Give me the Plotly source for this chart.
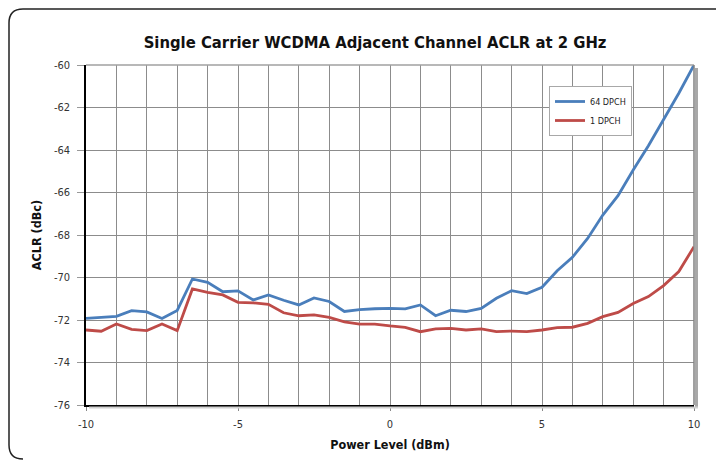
import plotly.graph_objects as go

# power level sweep (dBm)
power_dbm = [-10, -9.5, -9, -8.5, -8, -7.5, -7, -6.5, -6, -5.5, -5, -4.5, -4, -3.5,
             -3, -2.5, -2, -1.5, -1, -0.5, 0, 0.5, 1, 1.5, 2, 2.5, 3, 3.5,
             4, 4.5, 5, 5.5, 6, 6.5, 7, 7.5, 8, 8.5, 9, 9.5, 10]

# ACLR (dBc)
aclr_64dpch = [-71.92, -71.87, -71.83, -71.56, -71.62, -71.93, -71.55, -70.07, -70.23, -70.67,
               -70.63, -71.06, -70.82, -71.07, -71.29, -70.96, -71.13, -71.60, -71.51, -71.47,
               -71.45, -71.48, -71.29, -71.80, -71.54, -71.60, -71.45, -70.98, -70.62, -70.76,
               -70.46, -69.68, -69.05, -68.16, -67.06, -66.15, -64.94, -63.80, -62.59, -61.33,
               -60.00]
aclr_1dpch = [-72.47, -72.53, -72.19, -72.44, -72.50, -72.19, -72.50, -70.54, -70.70, -70.82,
              -71.17, -71.19, -71.26, -71.66, -71.80, -71.76, -71.88, -72.09, -72.19, -72.19,
              -72.28, -72.35, -72.55, -72.42, -72.39, -72.47, -72.42, -72.55, -72.52, -72.55,
              -72.47, -72.36, -72.34, -72.16, -71.84, -71.64, -71.22, -70.90, -70.38, -69.72,
              -68.55]

x_ticks = [-10, -5, 0, 5, 10]
x_labels = ["-10", "-5", "0", "5", "10"]
y_ticks = [-76, -74, -72, -70, -68, -66, -64, -62, -60]
y_labels = ["-76", "-74", "-72", "-70", "-68", "-66", "-64", "-62", "-60"]

FONT = "DejaVu Sans Condensed, Liberation Sans Narrow, sans-serif"

fig = go.Figure()

fig.add_trace(go.Scatter(
    x=power_dbm, y=aclr_64dpch, mode="lines", name="64 DPCH",
    line=dict(color="#4A7EBB", width=2.8)
))
fig.add_trace(go.Scatter(
    x=power_dbm, y=aclr_1dpch, mode="lines", name="1 DPCH",
    line=dict(color="#BE4B48", width=2.8)
))

# the page adds an 8px body margin, so the figure is laid out 8px up/left
# plot area: 78..686 px wide, 57..397 px tall (figure coords)
px = 1 / 608
py = 1 / 340

shapes = [
    # drop shadow right / bottom of plot frame
    dict(type="line", xref="paper", yref="paper", x0=1 + 2.5 * px, x1=1 + 2.5 * px,
         y0=-3 * py, y1=1 - 3 * py, line=dict(color="#a8a8a8", width=3)),
    dict(type="line", xref="paper", yref="paper", x0=3 * px, x1=1 + 4 * px,
         y0=-2.5 * py, y1=-2.5 * py, line=dict(color="#d0d0d0", width=2)),
    # frame: grey top/right
    dict(type="line", xref="paper", yref="paper", x0=0, x1=1, y0=1, y1=1,
         line=dict(color="#a0a0a0", width=1.5)),
    dict(type="line", xref="paper", yref="paper", x0=1, x1=1, y0=0, y1=1,
         line=dict(color="#808080", width=1.5)),
]

# rounded outer border (bottom edge runs off the page, only the corner shows)
L, T = (1 - 78) * px, (397 - 1) * py
R, B = (760 - 78) * px, (397 - 451) * py
rx, ry = 14 * px, 14 * py
border = (f"M {L},{T - ry} Q {L},{T} {L + rx},{T} L {R},{T} "
          f"M {L},{T - ry} L {L},{B + ry} Q {L},{B} {L + rx},{B}")
shapes.append(dict(type="path", xref="paper", yref="paper", path=border,
                   line=dict(color="#222222", width=1.5)))

fig.update_layout(
    width=724, height=460,
    margin=dict(l=78, r=38, t=57, b=63),
    paper_bgcolor="white", plot_bgcolor="white",
    font=dict(family=FONT, color="#333333", size=11),
    title=dict(text="<b>Single Carrier WCDMA Adjacent Channel ACLR at 2 GHz</b>",
               x=0.507, xanchor="center", y=0.926, yanchor="middle",
               font=dict(size=16.5, color="#111111")),
    xaxis=dict(
        range=[-10, 10], tickvals=x_ticks, ticktext=x_labels,
        showgrid=False, zeroline=False,
        showline=True, linecolor="black", linewidth=1.5,
        ticks="outside", ticklen=4, tickcolor="#888888", ticklabelstandoff=4,
        title=dict(text="<b>Power Level (dBm)</b>", standoff=10,
                   font=dict(size=12.5, color="#111111")),
    ),
    yaxis=dict(
        range=[-76, -60], tickvals=y_ticks, ticktext=y_labels,
        showgrid=True, gridcolor="#8c8c8c", gridwidth=1, zeroline=False,
        showline=True, linecolor="black", linewidth=1.5,
        ticks="outside", ticklen=7, tickcolor="#999999", ticklabelstandoff=5,
        title=dict(text="<b>ACLR (dBc)</b>", standoff=10,
                   font=dict(size=12.5, color="#111111")),
    ),
    legend=dict(
        x=(549 - 86) * px, y=(405 - 86) * py, xanchor="left", yanchor="top",
        bgcolor="white", bordercolor="#a8a8a8", borderwidth=1,
        font=dict(size=9, color="#222222"), tracegroupgap=0, itemwidth=30,
    ),
    shapes=shapes,
    showlegend=True,
)

# minor vertical grid every 1 dBm
fig.update_xaxes(minor=dict(dtick=1, showgrid=True, gridcolor="#8c8c8c", gridwidth=1, ticks=""))

fig.write_html("out.html")
